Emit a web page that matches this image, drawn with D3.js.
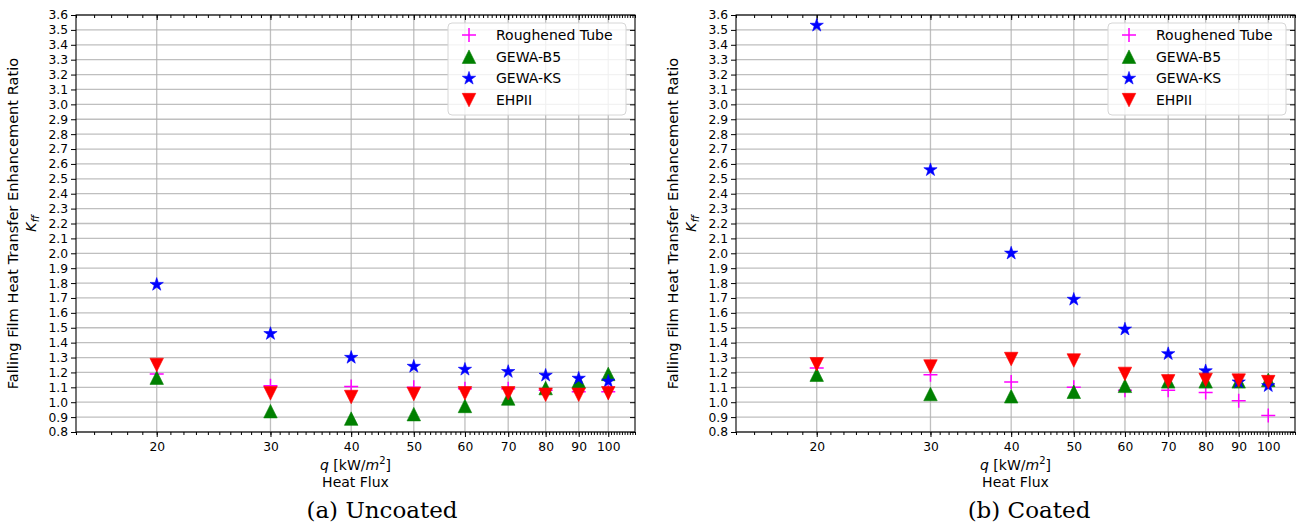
<!DOCTYPE html>
<html lang="en">
<head>
    <meta charset="UTF-8">
    <title>Falling Film Enhancement Ratio</title>
    <script src="https://d3js.org/d3.v7.min.js"></script>
    <style>
        body { margin: 0; background: #fff; }
        text { font-family: "DejaVu Sans", sans-serif; fill: #000; }
    </style>
</head>
<body>
    <div id="my_dataviz"></div>
</body>
</html>

<script>
    // Heat flux values (kW/m2)
    const heatFlux = [20, 30, 40, 50, 60, 70, 80, 90, 100];
    const seriesNames = ['Roughened Tube', 'GEWA-B5', 'GEWA-KS', 'EHPII'];

    // (a) Uncoated
    const uncoatedRough = [1.19, 1.11, 1.105, 1.10, 1.09, 1.09, 1.08, 1.07, 1.07];
    const uncoatedB5    = [1.165, 0.94, 0.89, 0.92, 0.975, 1.025, 1.095, 1.14, 1.19];
    const uncoatedKS    = [1.79, 1.46, 1.30, 1.24, 1.22, 1.205, 1.18, 1.16, 1.14];
    const uncoatedEHP   = [1.25, 1.06, 1.035, 1.055, 1.06, 1.06, 1.05, 1.05, 1.06];

    // (b) Coated
    const coatedRough = [1.23, 1.185, 1.135, 1.10, 1.08, 1.08, 1.065, 1.01, 0.91];
    const coatedB5    = [1.185, 1.055, 1.04, 1.07, 1.11, 1.14, 1.14, 1.14, 1.15];
    const coatedKS    = [3.53, 2.56, 2.00, 1.69, 1.49, 1.325, 1.21, 1.135, 1.11];
    const coatedEHP   = [1.255, 1.24, 1.29, 1.28, 1.19, 1.14, 1.15, 1.145, 1.135];

    const yTicks = d3.range(8, 37).map(d => d / 10);   // 0.8 .. 3.6
    const xMinor = d3.range(15, 111);

    const colors = ['#ff00ff', '#008000', '#0000ff', '#ff0000'];

    const W = 1296, H = 524;
    const svg = d3.select("#my_dataviz")
        .append("svg")
        .attr("width", W)
        .attr("height", H);

    // marker shapes like matplotlib's '+', '^', '*', 'v'
    function markerPath(kind, s) {
        const h = s / 2;
        if (kind === 0) return `M${-h},0H${h}M0,${-h}V${h}`;
        if (kind === 1) return `M0,${-h}L${h},${h}L${-h},${h}Z`;
        if (kind === 3) return `M0,${h}L${h},${-h}L${-h},${-h}Z`;
        const pts = d3.range(10).map(i => {
            const a = -Math.PI / 2 + i * Math.PI / 5;
            const r = i % 2 === 0 ? h : h * 0.381966;
            return [r * Math.cos(a), r * Math.sin(a)];
        });
        return "M" + pts.map(p => p.join(",")).join("L") + "Z";
    }
    const markerSize = [14, 13.5, 14, 13.5];

    function drawMarker(g, kind, px, py) {
        const p = g.append("path")
            .attr("transform", `translate(${px},${py})`)
            .attr("d", markerPath(kind, markerSize[kind]));
        if (kind === 0) {
            p.attr("fill", "none").attr("stroke", colors[0]).attr("stroke-width", 1.5);
        } else {
            p.attr("fill", colors[kind]).attr("stroke", colors[kind]).attr("stroke-width", 0.6);
        }
    }

    function drawPanel(left, series, caption, captionX) {
        const top = 15, bottom = 432, right = left + 559;
        const x = d3.scaleLog().domain([15, 110]).range([left, right]);
        const y = d3.scaleLinear().domain([0.8, 3.6]).range([bottom, top]);
        const g = svg.append("g");

        // grid
        g.selectAll(".hgrid").data(yTicks).enter().append("line")
            .attr("x1", left).attr("x2", right)
            .attr("y1", d => y(d)).attr("y2", d => y(d))
            .attr("stroke", "#b0b0b0").attr("stroke-width", 1.3).attr("opacity", 0.8);
        g.selectAll(".vgrid").data(heatFlux).enter().append("line")
            .attr("y1", top).attr("y2", bottom)
            .attr("x1", d => x(d)).attr("x2", d => x(d))
            .attr("stroke", "#b0b0b0").attr("stroke-width", 1.3).attr("opacity", 0.8);

        // axes (left/bottom out, top/right in)
        g.append("g").attr("transform", `translate(${left},0)`)
            .call(d3.axisLeft(y).tickValues(yTicks).tickFormat(d3.format(".1f")).tickSize(5).tickPadding(3))
            .call(a => a.select(".domain").remove())
            .selectAll("text").style("font-size", "12.3px").style("font-family", "DejaVu Sans");
        g.append("g").attr("transform", `translate(${right},0)`)
            .call(d3.axisLeft(y).tickValues(yTicks).tickFormat("").tickSize(5))
            .call(a => a.select(".domain").remove());

        g.append("g").attr("transform", `translate(0,${bottom})`)
            .call(d3.axisBottom(x).tickValues(xMinor).tickFormat("").tickSize(3))
            .call(a => a.select(".domain").remove());
        g.append("g").attr("transform", `translate(0,${bottom})`)
            .call(d3.axisBottom(x).tickValues(heatFlux).tickFormat(d3.format("d")).tickSize(5).tickPadding(5))
            .call(a => a.select(".domain").remove())
            .selectAll("text").style("font-size", "12.3px").style("font-family", "DejaVu Sans");
        g.append("g").attr("transform", `translate(0,${top})`)
            .call(d3.axisTop(x).tickValues(xMinor).tickFormat("").tickSize(-3))
            .call(a => a.select(".domain").remove());
        g.append("g").attr("transform", `translate(0,${top})`)
            .call(d3.axisTop(x).tickValues(heatFlux).tickFormat("").tickSize(-5))
            .call(a => a.select(".domain").remove());

        g.append("rect")
            .attr("x", left).attr("y", top)
            .attr("width", right - left).attr("height", bottom - top)
            .attr("fill", "none").attr("stroke", "#000").attr("stroke-width", 1.1);

        // points
        series.forEach((vals, k) => {
            vals.forEach((v, i) => drawMarker(g, k, x(heatFlux[i]), y(v)));
        });

        // legend
        const lx = right - 187, ly = 23;
        g.append("rect")
            .attr("x", lx).attr("y", ly).attr("width", 178).attr("height", 92)
            .attr("rx", 4).attr("fill", "#fff").attr("fill-opacity", 0.8)
            .attr("stroke", "#d6d6d6").attr("stroke-width", 1);
        seriesNames.forEach((name, k) => {
            const yy = ly + 12 + k * 21.7;
            drawMarker(g, k, lx + 21, yy);
            g.append("text").attr("x", lx + 48).attr("y", yy + 5)
                .style("font-size", "14px").text(name);
        });

        // axis labels
        const cx = (left + right) / 2;
        const xl = g.append("text").attr("x", cx).attr("y", 470)
            .attr("text-anchor", "middle").style("font-size", "14px");
        xl.append("tspan").style("font-style", "italic").text("q");
        xl.append("tspan").text(" [kW/");
        xl.append("tspan").style("font-style", "italic").text("m");
        xl.append("tspan").attr("dy", -6).style("font-size", "10px").text("2");
        xl.append("tspan").attr("dy", 6).text("]");
        g.append("text").attr("x", cx).attr("y", 487)
            .attr("text-anchor", "middle").style("font-size", "14px").text("Heat Flux");

        const cy = (top + bottom) / 2;
        g.append("text")
            .attr("transform", `translate(${left - 58},${cy}) rotate(-90)`)
            .attr("text-anchor", "middle").style("font-size", "14.6px")
            .text("Falling Film Heat Transfer Enhancement Ratio");
        const kl = g.append("text")
            .attr("transform", `translate(${left - 40},${cy}) rotate(-90)`)
            .attr("text-anchor", "middle").style("font-size", "14.6px");
        kl.append("tspan").style("font-style", "italic").text("K");
        kl.append("tspan").attr("dy", 3).style("font-style", "italic").style("font-size", "10px").text("ff");

        svg.append("text").attr("x", captionX).attr("y", 518)
            .attr("text-anchor", "middle")
            .style("font-family", "DejaVu Serif").style("font-size", "23px")
            .text(caption);
    }

    drawPanel(76, [uncoatedRough, uncoatedB5, uncoatedKS, uncoatedEHP], "(a) Uncoated", 382);
    drawPanel(736, [coatedRough, coatedB5, coatedKS, coatedEHP], "(b) Coated", 1029);
</script>
